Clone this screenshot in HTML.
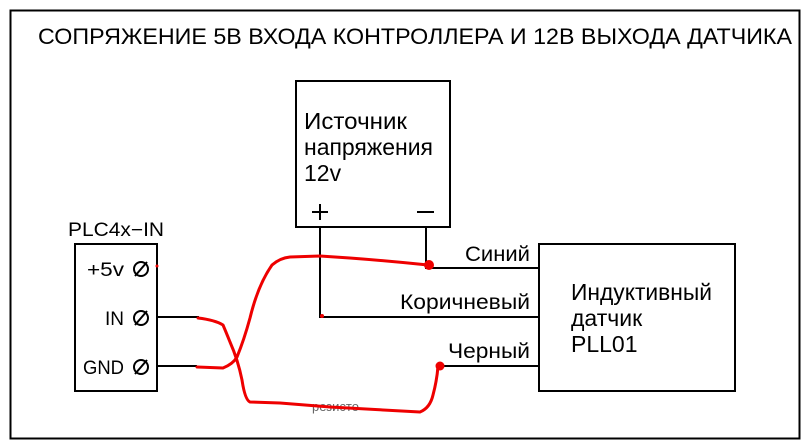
<!DOCTYPE html>
<html><head><meta charset="utf-8"><style>
html,body{margin:0;padding:0;background:#fff;}
svg{display:block}
text{font-family:"Liberation Sans","DejaVu Sans",sans-serif;fill:#000}
</style></head><body>
<svg width="809" height="447" viewBox="0 0 809 447" xmlns="http://www.w3.org/2000/svg">
<rect x="10.5" y="10.5" width="789" height="428" fill="none" stroke="#000" stroke-width="2"/>
<text x="38" y="44" font-size="22" textLength="754" lengthAdjust="spacingAndGlyphs">СОПРЯЖЕНИЕ 5В ВХОДА КОНТРОЛЛЕРА И 12В ВЫХОДА ДАТЧИКА</text>
<g fill="none" stroke="#000" stroke-width="2">
<rect x="296" y="81" width="154" height="146"/>
<rect x="75" y="244" width="82" height="147"/>
<rect x="539" y="244" width="196" height="147"/>
<path d="M320 227 V317 H539"/>
<path d="M426 227 V268 H539"/>
<path d="M441 366 H539"/>
<path d="M157 317 H199"/>
<path d="M157 366 H197"/>
</g>
<g font-size="23">
<text x="304" y="129" textLength="103" lengthAdjust="spacingAndGlyphs">Источник</text>
<text x="304" y="155" textLength="129" lengthAdjust="spacingAndGlyphs">напряжения</text>
<text x="304" y="181">12v</text>
<text x="571" y="300" textLength="141" lengthAdjust="spacingAndGlyphs">Индуктивный</text>
<text x="571" y="326">датчик</text>
<text x="571" y="352">PLL01</text>
<text x="530" y="261" text-anchor="end" font-size="21" textLength="65" lengthAdjust="spacingAndGlyphs">Синий</text>
<text x="530" y="309" text-anchor="end" font-size="21" textLength="130" lengthAdjust="spacingAndGlyphs">Коричневый</text>
<text x="530" y="358" text-anchor="end" font-size="21" textLength="82" lengthAdjust="spacingAndGlyphs">Черный</text>
<text x="68" y="236" font-size="19" textLength="96" lengthAdjust="spacingAndGlyphs">PLC4x−IN</text>
<text x="124" y="276" font-size="19" text-anchor="end" textLength="37" lengthAdjust="spacingAndGlyphs">+5v</text>
<text x="124" y="325" font-size="19" text-anchor="end">IN</text>
<text x="124" y="374" font-size="19" text-anchor="end" textLength="41" lengthAdjust="spacingAndGlyphs">GND</text>
</g>
<g stroke="#000" stroke-width="2" fill="none">
<path d="M312 212 h16 M320 204 v16"/>
<path d="M417 212 h17"/>
<circle cx="141" cy="269" r="7"/><path d="M135 276 L147 262"/>
<circle cx="141" cy="318" r="7"/><path d="M135 325 L147 311"/>
<circle cx="141" cy="367" r="7"/><path d="M135 374 L147 360"/>
</g>
<text x="312" y="411" font-size="13" style="fill:#666">резисто</text>
<g fill="none" stroke="#e00" stroke-width="3" stroke-linecap="round" stroke-linejoin="round">
<path d="M197 367 L223 368 Q233 364 237 357 Q244 340 250 318 Q258 285 272 265 Q280 258 290 257 L320 256 Q370 259 428 265"/>
<path d="M198 318 Q215 320 223 325 Q226 332 230 342 Q238 360 242 380 Q245 400 250 402 L280 403 L330 407 L420 412 Q430 408 433 395 Q437 380 438 366"/>
</g>
<g fill="#e00">
<circle cx="429" cy="265" r="5"/>
<circle cx="440" cy="366" r="4.5"/>
<circle cx="157" cy="266" r="1.5"/>
<circle cx="322" cy="316" r="2"/>
</g>
</svg>
</body></html>
